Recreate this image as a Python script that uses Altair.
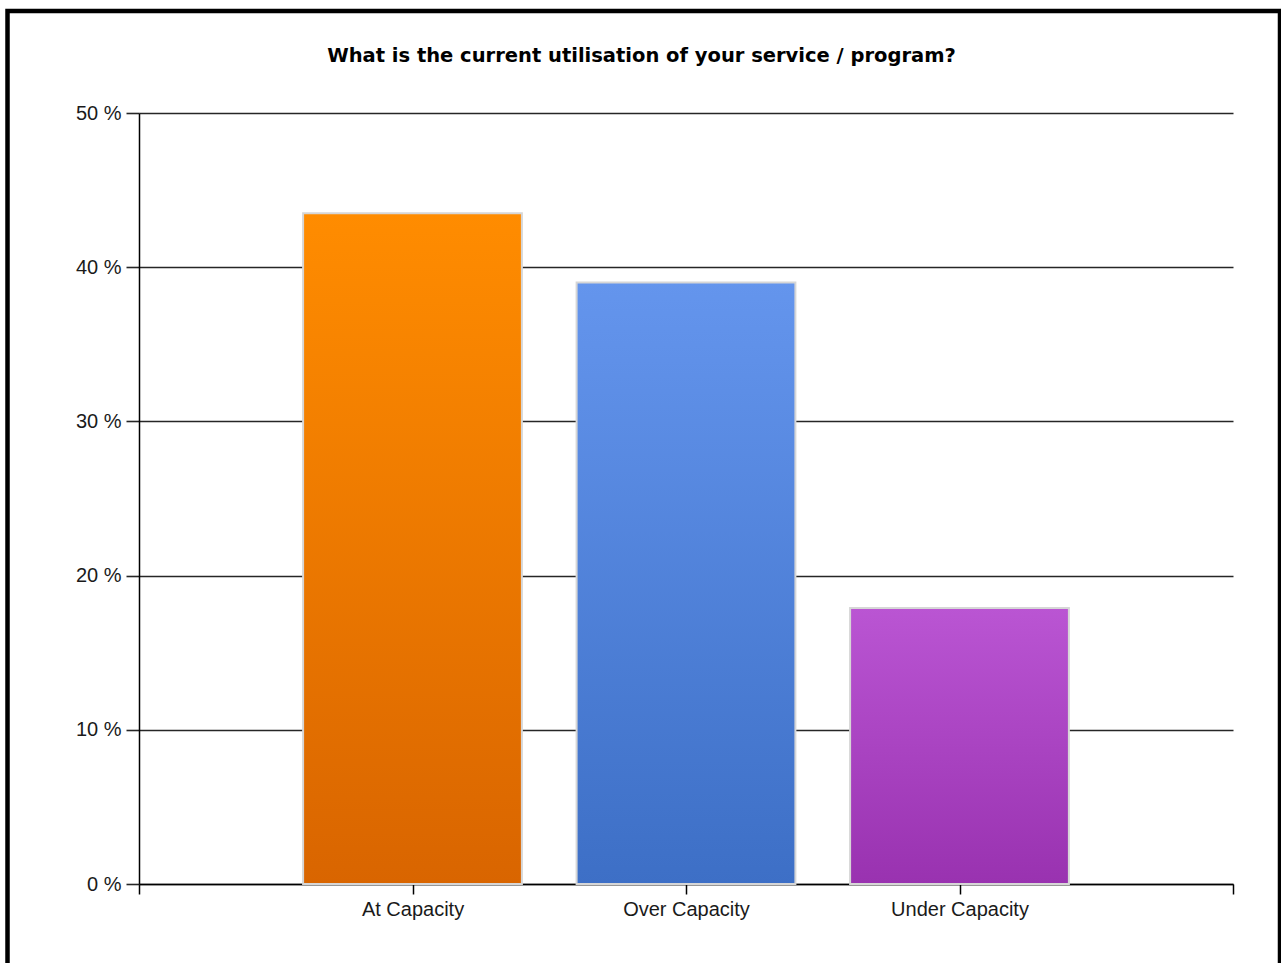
import altair as alt
import pandas as pd

# Survey answers and their share of respondents (%)
categories = ["At Capacity", "Over Capacity", "Under Capacity"]
shares = [43.5, 39.0, 17.9]

# Top and bottom colours of each bar's vertical gradient
top_colors = ["#FF8C00", "#6495ED", "#BA55D3"]
bottom_colors = ["#D96500", "#3D6FC6", "#9932B0"]

y_ticks = [0, 10, 20, 30, 40, 50]
title_text = "What is the current utilisation of your service / program?"

df = pd.DataFrame({
    "category": categories,
    "share": shares,
    "pos": list(range(1, len(categories) + 1)),
})

n_slots = len(categories) + 1
tick_labels = [""] + categories + [""]
label_expr = "[" + ", ".join(repr(t) for t in tick_labels) + "][datum.value]"

FONT = "Liberation Sans"
W, H = 1094, 771

x_enc = alt.X(
    "x0:Q",
    scale=alt.Scale(domain=[0, n_slots], nice=False, zero=False, padding=0),
    axis=alt.Axis(
        title=None,
        values=list(range(0, n_slots + 1)),
        labelExpr=label_expr,
        grid=False,
        domainColor="#000000",
        domainWidth=1.5,
        tickColor="#000000",
        tickWidth=1.5,
        tickSize=10,
        labelFont=FONT,
        labelFontSize=20,
        labelColor="#1a1a1a",
        labelPadding=5,
    ),
)
y_enc = alt.Y(
    "share:Q",
    scale=alt.Scale(domain=[0, 50], nice=False, padding=0),
    axis=alt.Axis(
        title=None,
        values=y_ticks,
        labelExpr="datum.value + ' %'",
        grid=True,
        gridColor="#262626",
        gridWidth=1.6,
        domainColor="#000000",
        domainWidth=1.5,
        tickColor="#262626",
        tickWidth=1.6,
        tickSize=13,
        labelFont=FONT,
        labelFontSize=20,
        labelColor="#1a1a1a",
        labelPadding=5,
    ),
)

base = alt.Chart(df).transform_calculate(
    x0="datum.pos - 0.4", x1="datum.pos + 0.4"
)

layers = []
for cat, c_top, c_bot in zip(categories, top_colors, bottom_colors):
    layers.append(
        base.transform_filter(alt.datum.category == cat)
        .mark_bar(
            color=alt.Gradient(
                gradient="linear",
                stops=[
                    alt.GradientStop(color=c_top, offset=0),
                    alt.GradientStop(color=c_bot, offset=1),
                ],
                x1=0, x2=0, y1=0, y2=1,
            ),
            stroke="#D6D6D6",
            strokeWidth=2,
            orient="vertical",
        )
        .encode(x=x_enc, x2="x1:Q", y=y_enc, y2=alt.datum(0))
    )

# Chart heading, centred on the whole figure
heading = alt.Chart(df).transform_filter(alt.datum.pos == 1).mark_text(
    text=title_text,
    font="DejaVu Sans",
    fontSize=19.5,
    fontWeight="bold",
    color="#000000",
    align="center",
    baseline="alphabetic",
).encode(x=alt.value(641.5 - 139), y=alt.value(62 - 113))

# Black frame around the whole figure
frame = alt.Chart(df).transform_filter(alt.datum.pos == 1).mark_rect(
    fill=None, stroke="#000000", strokeWidth=4.5
).encode(
    x=alt.value(-131.5), x2=alt.value(1141), y=alt.value(-102), y2=alt.value(870)
)

chart = (
    alt.layer(*layers, heading, frame)
    .properties(
        width=W,
        height=H,
        padding={"left": 139, "top": 113, "right": 48, "bottom": 79},
        autosize=alt.AutoSizeParams(type="none"),
    )
    .configure_view(stroke=None)
)

chart.save("out.html", embed_options={"renderer": "svg", "actions": False})
